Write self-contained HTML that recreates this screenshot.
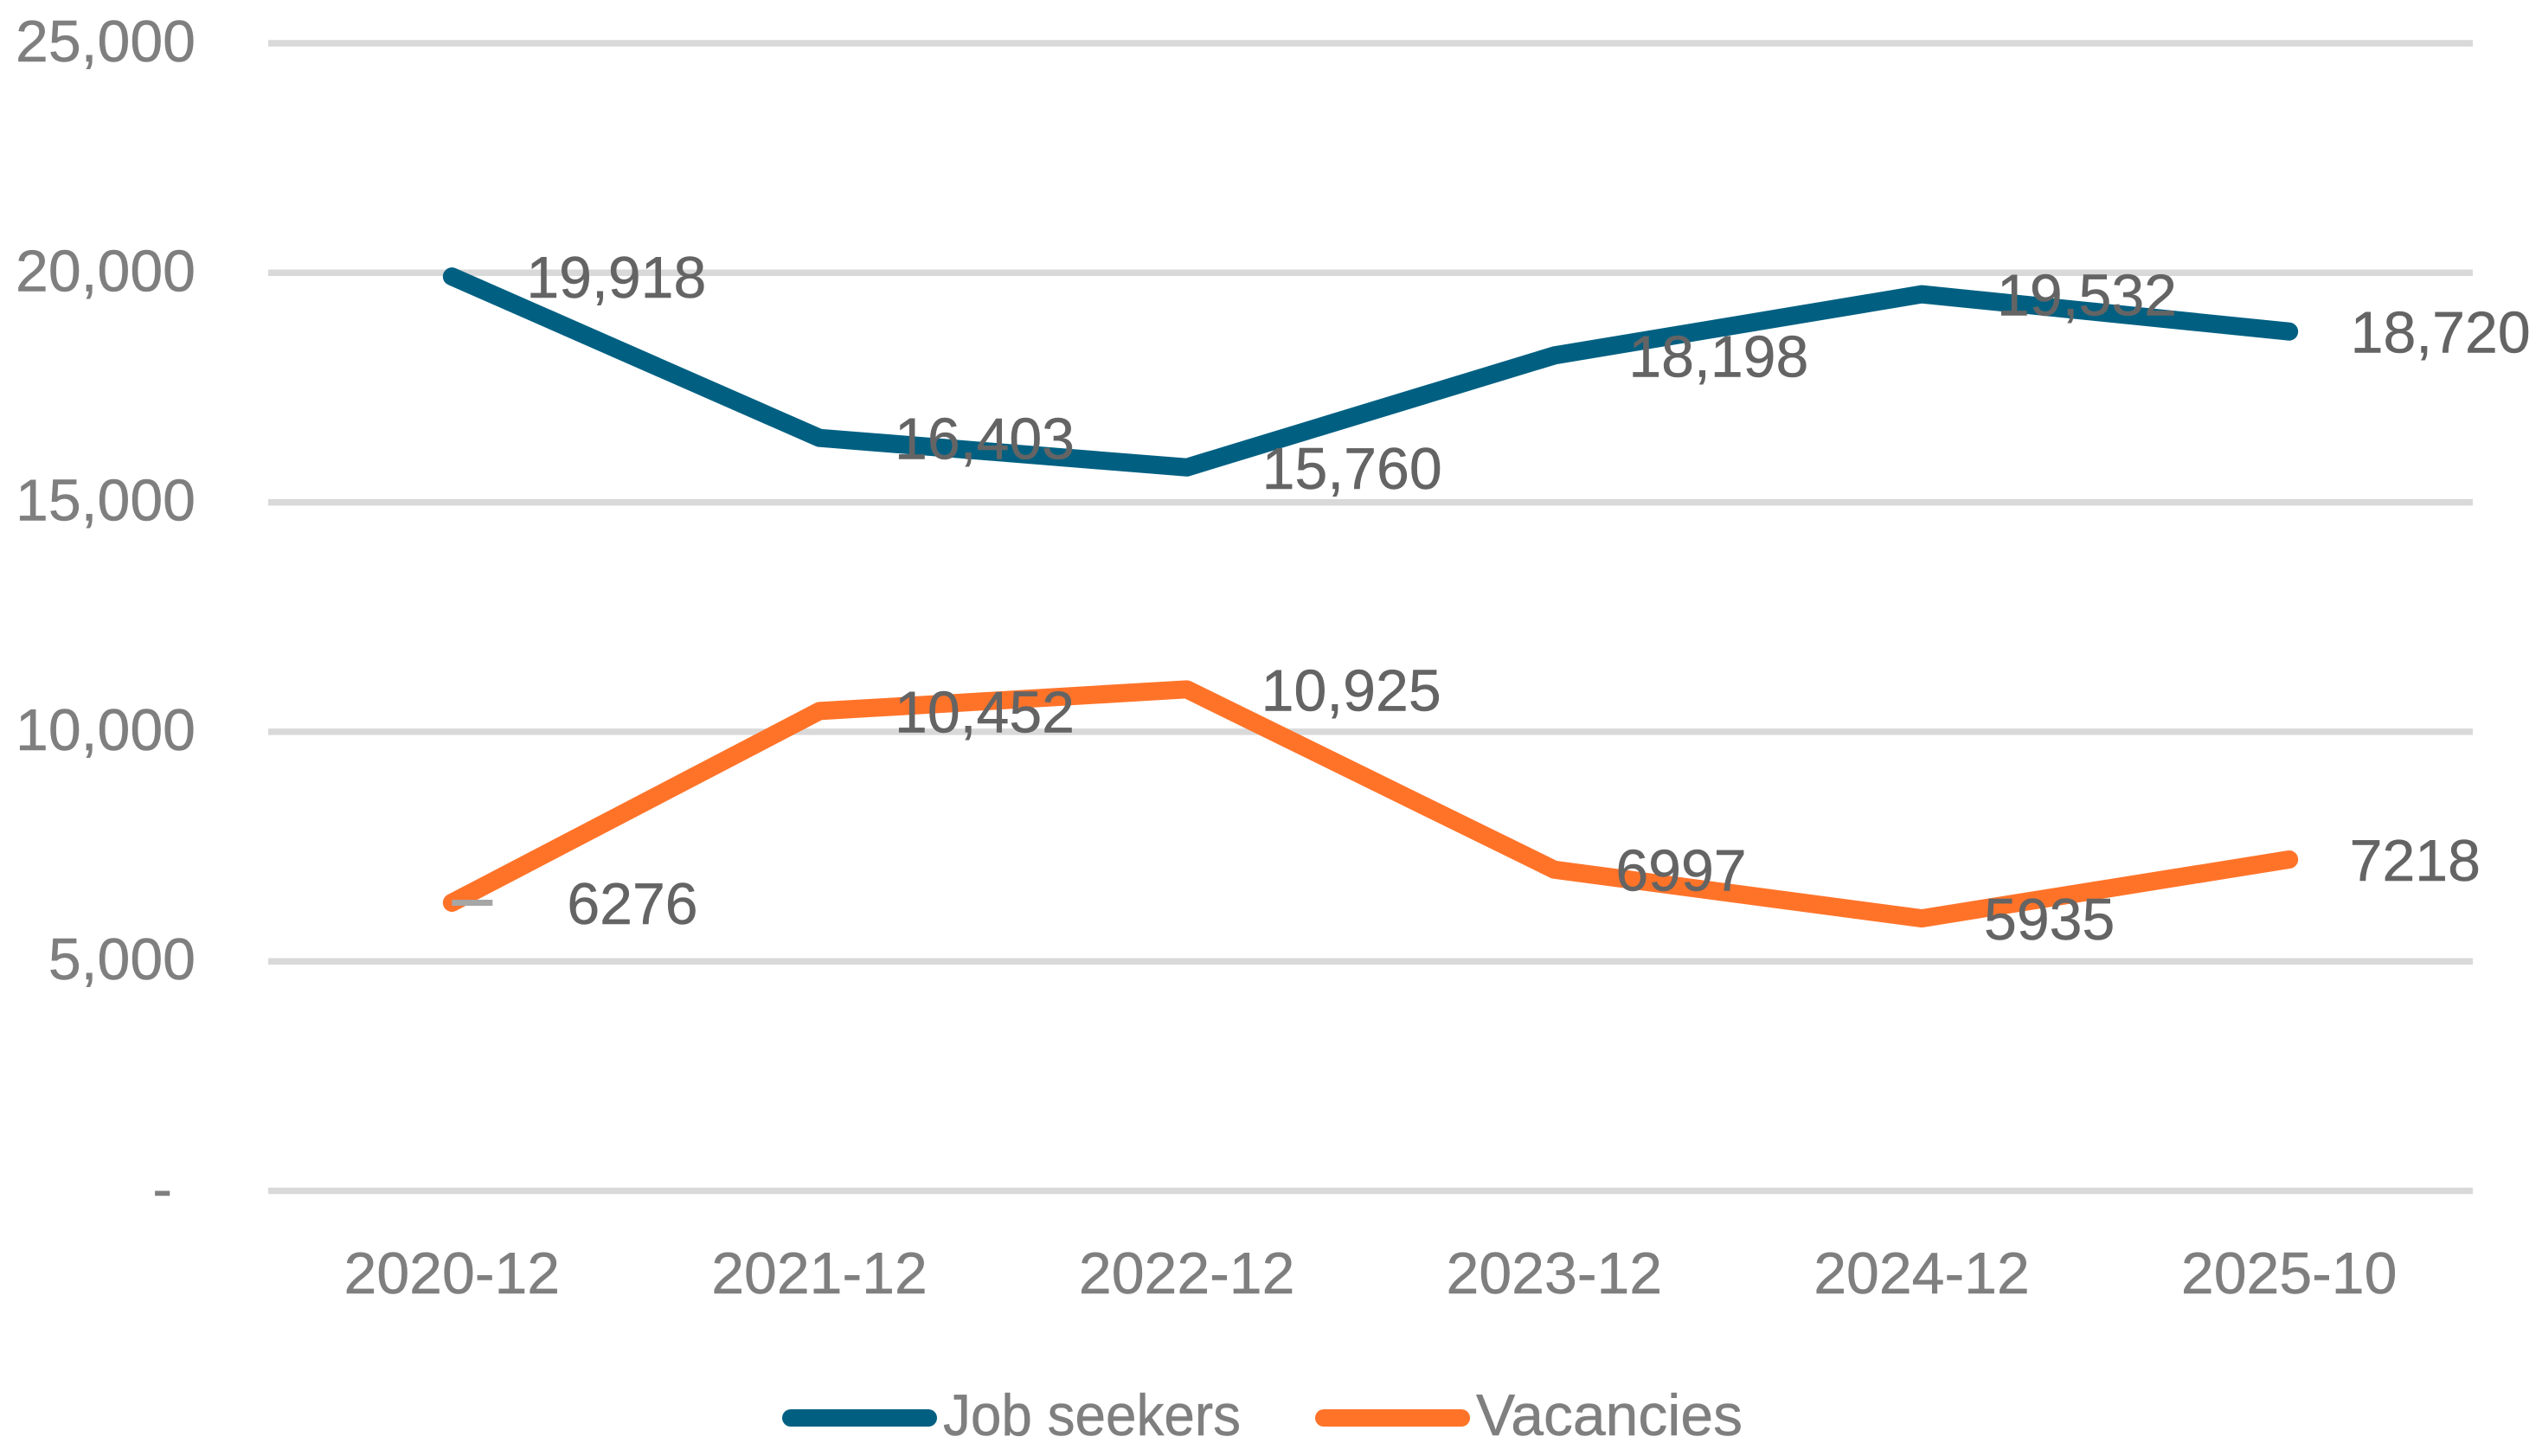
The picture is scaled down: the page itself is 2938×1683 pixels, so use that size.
<!DOCTYPE html>
<html lang="en">
<head>
<meta charset="utf-8">
<title>Job seekers and vacancies</title>
<style>
  html, body { margin: 0; padding: 0; background: #ffffff; }
  svg { display: block; }
  text { font-family: "Liberation Sans", sans-serif; font-size: 68px; stroke-width: 0.5px; }
  .axis-text { fill: #7f7f7f; stroke: #7f7f7f; }
  .value-text { fill: #646464; stroke: #646464; }
</style>
</head>
<body>
<svg id="chart" xmlns="http://www.w3.org/2000/svg" width="2938" height="1683" viewBox="0 0 2938 1683">
  <g id="grid"></g>
  <g id="y-axis"></g>
  <g id="x-axis"></g>
  <g id="series"></g>
  <g id="labels"></g>
  <g>
    <g>
      <line x1="914" y1="1639" x2="1073" y2="1639" stroke="#016082" stroke-width="20" stroke-linecap="round"></line>
      <text class="axis-text" x="1090" y="1659" textLength="344" lengthAdjust="spacingAndGlyphs">Job seekers</text>
    </g>
    <g>
      <line x1="1530" y1="1639" x2="1689" y2="1639" stroke="#ff7329" stroke-width="20" stroke-linecap="round"></line>
      <text class="axis-text" x="1706" y="1659" textLength="308" lengthAdjust="spacingAndGlyphs">Vacancies</text>
    </g>
  </g>
</svg>
<script>
const categories = ['2020-12', '2021-12', '2022-12', '2023-12', '2024-12', '2025-10'];
const jobSeekers = [19918, 16403, 15760, 18198, 19532, 18720];
const vacancies = [6276, 10452, 10925, 6997, 5935, 7218];
const jobSeekerLabels = ['19,918', '16,403', '15,760', '18,198', '19,532', '18,720'];
const vacancyLabels = ['6276', '10,452', '10,925', '6997', '5935', '7218'];
const yTicks = [0, 5000, 10000, 15000, 20000, 25000];
const yTickLabels = ['-', '5,000', '10,000', '15,000', '20,000', '25,000'];

const SVG_NS = 'http://www.w3.org/2000/svg';
const plot = { left: 310, right: 2858, zeroY: 1376.5, topY: 50, maxValue: 25000 };
const bandWidth = (plot.right - plot.left) / categories.length;

function xScale(index) {
  return plot.left + bandWidth * (index + 0.5);
}
function yScale(value) {
  return plot.zeroY - (value / plot.maxValue) * (plot.zeroY - plot.topY);
}
function make(tag, parent) {
  const el = document.createElementNS(SVG_NS, tag);
  parent.appendChild(el);
  return el;
}

const gridGroup = document.getElementById('grid');
const yAxisGroup = document.getElementById('y-axis');
const xAxisGroup = document.getElementById('x-axis');
const seriesGroup = document.getElementById('series');
const labelGroup = document.getElementById('labels');

yTicks.forEach(function (tick, i) {
  const y = yScale(tick);
  const gridLine = make('line', gridGroup);
  
  
  gridLine.setAttribute('x1', plot.left);
  gridLine.setAttribute('x2', plot.right);
  gridLine.setAttribute('y1', y);
  gridLine.setAttribute('y2', y);
  gridLine.setAttribute('stroke', '#d9d9d9');
  gridLine.setAttribute('stroke-width', 7.5);

  const tickText = make('text', yAxisGroup);
  
  
  tickText.setAttribute('class', 'axis-text');
  tickText.setAttribute('x', tick === 0 ? 199 : 226);
  tickText.setAttribute('y', y + 21);
  tickText.setAttribute('text-anchor', 'end');
  tickText.textContent = yTickLabels[i];
});

categories.forEach(function (category, i) {
  const catText = make('text', xAxisGroup);
  
  
  catText.setAttribute('class', 'axis-text');
  catText.setAttribute('x', xScale(i));
  catText.setAttribute('y', 1495);
  catText.setAttribute('text-anchor', 'middle');
  catText.textContent = category;
});

function drawSeries(values, color, name) {
  const line = make('polyline', seriesGroup);
  
  
  line.setAttribute('fill', 'none');
  line.setAttribute('stroke', color);
  line.setAttribute('stroke-width', 21);
  line.setAttribute('stroke-linecap', 'round');
  line.setAttribute('stroke-linejoin', 'round');
  line.setAttribute('points', values.map(function (v, i) {
    return xScale(i) + ',' + yScale(v);
  }).join(' '));
}
drawSeries(jobSeekers, '#016082', 'job-seekers-line');
drawSeries(vacancies, '#ff7329', 'vacancies-line');

const leader = make('line', seriesGroup);


leader.setAttribute('x1', xScale(0));
leader.setAttribute('x2', xScale(0) + 47);
leader.setAttribute('y1', yScale(vacancies[0]));
leader.setAttribute('y2', yScale(vacancies[0]));
leader.setAttribute('stroke', '#a6a6a6');
leader.setAttribute('stroke-width', 7);

function drawLabels(values, texts, nudges, name) {
  values.forEach(function (v, i) {
    const label = make('text', labelGroup);
    
    
    label.setAttribute('class', 'value-text');
    label.setAttribute('x', xScale(i) + nudges[i]);
    label.setAttribute('y', yScale(v) + 24.5);
    label.textContent = texts[i];
  });
}
drawLabels(jobSeekers, jobSeekerLabels, [86, 87, 87, 86, 87, 71], 'job-seekers-value-label');
drawLabels(vacancies, vacancyLabels, [133, 87, 86, 71, 72, 70], 'vacancies-value-label');
</script>
</body>
</html>
